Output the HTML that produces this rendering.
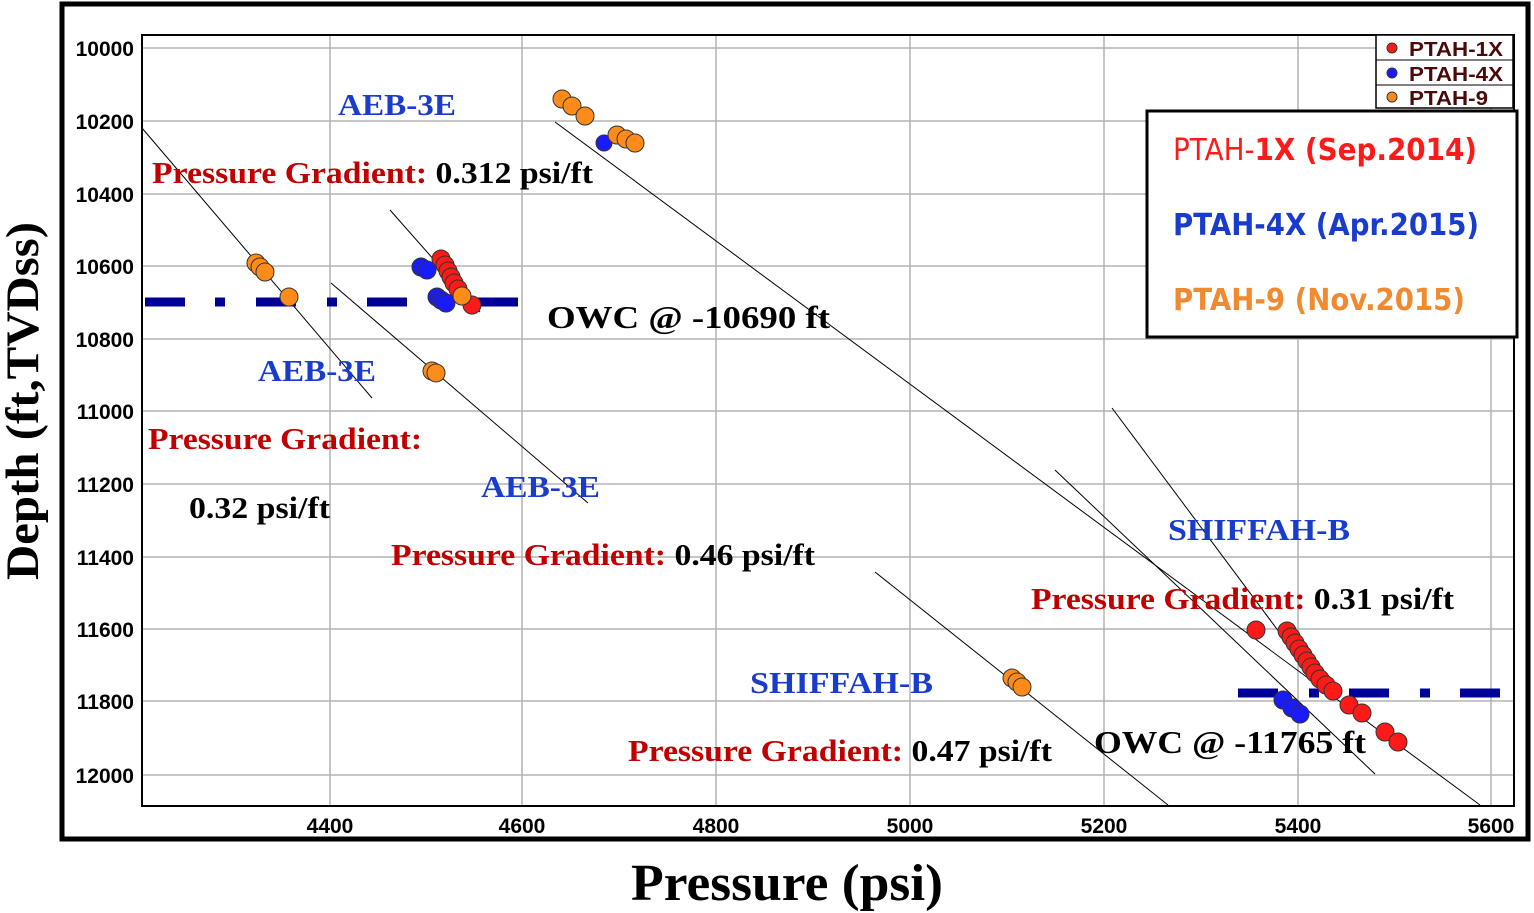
<!DOCTYPE html>
<html><head><meta charset="utf-8"><style>body{margin:0;background:#fff}svg{display:block}</style></head><body>
<svg width="1534" height="913" viewBox="0 0 1534 913" xmlns="http://www.w3.org/2000/svg">
<rect x="0" y="0" width="1534" height="913" fill="#fff"/>
<rect x="62" y="4" width="1466" height="835" fill="none" stroke="#000" stroke-width="5"/>
<g stroke="#b4b4b4" stroke-width="1.5">
<line x1="330" y1="35" x2="330" y2="806"/><line x1="522" y1="35" x2="522" y2="806"/><line x1="716" y1="35" x2="716" y2="806"/><line x1="910" y1="35" x2="910" y2="806"/><line x1="1104" y1="35" x2="1104" y2="806"/><line x1="1298" y1="35" x2="1298" y2="806"/><line x1="1491" y1="35" x2="1491" y2="806"/>
<line x1="142" y1="48" x2="1514" y2="48"/><line x1="142" y1="121" x2="1514" y2="121"/><line x1="142" y1="194" x2="1514" y2="194"/><line x1="142" y1="266" x2="1514" y2="266"/><line x1="142" y1="339" x2="1514" y2="339"/><line x1="142" y1="411" x2="1514" y2="411"/><line x1="142" y1="484" x2="1514" y2="484"/><line x1="142" y1="557" x2="1514" y2="557"/><line x1="142" y1="629" x2="1514" y2="629"/><line x1="142" y1="701" x2="1514" y2="701"/><line x1="142" y1="775" x2="1514" y2="775"/>
</g>
<rect x="142" y="35" width="1372" height="771" fill="none" stroke="#000" stroke-width="2"/>
<g font-family="Liberation Sans, sans-serif" font-weight="bold" font-size="21" fill="#000" text-anchor="end">
<text x="134" y="56">10000</text><text x="134" y="129">10200</text><text x="134" y="202">10400</text><text x="134" y="274">10600</text><text x="134" y="347">10800</text><text x="134" y="419">11000</text><text x="134" y="492">11200</text><text x="134" y="565">11400</text><text x="134" y="637">11600</text><text x="134" y="709">11800</text><text x="134" y="783">12000</text>
</g>
<g font-family="Liberation Sans, sans-serif" font-weight="bold" font-size="21" fill="#000" text-anchor="middle">
<text x="330" y="833">4400</text><text x="522" y="833">4600</text><text x="716" y="833">4800</text><text x="910" y="833">5000</text><text x="1104" y="833">5200</text><text x="1298" y="833">5400</text><text x="1491" y="833">5600</text>
</g>
<text transform="translate(38,401) rotate(-90)" font-family="Liberation Serif, serif" font-weight="bold" font-size="47" text-anchor="middle" textLength="358" lengthAdjust="spacingAndGlyphs">Depth (ft,TVDss)</text>
<text x="631" y="900" font-family="Liberation Serif, serif" font-weight="bold" font-size="52" textLength="312" lengthAdjust="spacingAndGlyphs">Pressure (psi)</text>
<g stroke="#000" stroke-width="1">
<line x1="142" y1="128" x2="372" y2="398"/>
<line x1="390" y1="210" x2="480" y2="312"/>
<line x1="331" y1="283" x2="588" y2="503"/>
<line x1="555" y1="122" x2="1480" y2="805"/>
<line x1="1112" y1="408" x2="1300" y2="660"/>
<line x1="1055" y1="470" x2="1375" y2="774"/>
<line x1="875" y1="572" x2="1168" y2="805"/>
</g>
<g stroke="#000099" stroke-width="9">
<line x1="145" y1="302" x2="185" y2="302"/><line x1="215" y1="302" x2="225" y2="302"/><line x1="256" y1="302" x2="296" y2="302"/><line x1="327" y1="302" x2="337" y2="302"/><line x1="367" y1="302" x2="407" y2="302"/><line x1="437" y1="302" x2="447" y2="302"/><line x1="478" y1="302" x2="518" y2="302"/>
<line x1="1238" y1="693" x2="1278" y2="693"/><line x1="1309" y1="693" x2="1319" y2="693"/><line x1="1349" y1="693" x2="1389" y2="693"/><line x1="1420" y1="693" x2="1430" y2="693"/><line x1="1460" y1="693" x2="1500" y2="693"/>
</g>
<g stroke="#333" stroke-width="1">
<g fill="#ff1a1a">
<circle cx="441" cy="259" r="9"/><circle cx="445" cy="265" r="9"/><circle cx="448" cy="271" r="9"/><circle cx="451" cy="277" r="9"/><circle cx="454" cy="283" r="9"/><circle cx="458" cy="289" r="9"/><circle cx="472" cy="305" r="9"/>
<circle cx="1256" cy="630" r="9"/><circle cx="1287" cy="631" r="9"/><circle cx="1291" cy="637" r="9"/><circle cx="1295" cy="643" r="9"/><circle cx="1299" cy="649" r="9"/><circle cx="1303" cy="655" r="9"/><circle cx="1307" cy="661" r="9"/><circle cx="1311" cy="667" r="9"/><circle cx="1315" cy="673" r="9"/><circle cx="1320" cy="679" r="9"/><circle cx="1326" cy="685" r="9"/><circle cx="1333" cy="691" r="9"/><circle cx="1349" cy="705" r="9"/><circle cx="1362" cy="713" r="9"/><circle cx="1385" cy="732" r="9"/><circle cx="1398" cy="742" r="9"/>
</g>
<g fill="#1a1aff">
<circle cx="421" cy="267" r="9"/><circle cx="427" cy="270" r="9"/><circle cx="437" cy="297" r="9"/><circle cx="441" cy="300" r="9"/><circle cx="446" cy="303" r="9"/><circle cx="604" cy="143" r="8"/>
<circle cx="1283" cy="700" r="9"/><circle cx="1292" cy="708" r="9"/><circle cx="1300" cy="714" r="9"/>
</g>
<g fill="#ff8c1a">
<circle cx="562" cy="99" r="9"/><circle cx="572" cy="106" r="9"/><circle cx="585" cy="116" r="9"/><circle cx="617" cy="135" r="9"/><circle cx="626" cy="139" r="9"/><circle cx="635" cy="143" r="9"/>
<circle cx="256" cy="263" r="9"/><circle cx="260" cy="267" r="9"/><circle cx="265" cy="272" r="9"/><circle cx="289" cy="297" r="9"/><circle cx="462" cy="296" r="9"/>
<circle cx="432" cy="371" r="9"/><circle cx="436" cy="373" r="9"/><circle cx="1012" cy="678" r="9"/><circle cx="1017" cy="682" r="9"/><circle cx="1022" cy="687" r="9"/>
</g>
</g>
<g font-family="Liberation Serif, serif" font-weight="bold" font-size="31" lengthAdjust="spacingAndGlyphs">
<text x="338" y="115" fill="#1a3ccc" textLength="118" lengthAdjust="spacingAndGlyphs">AEB-3E</text>
<text x="152" y="183" fill="#c00000" textLength="441" lengthAdjust="spacingAndGlyphs">Pressure Gradient: <tspan fill="#000">0.312 psi/ft</tspan></text>
<text x="547" y="328" font-size="32" fill="#000" textLength="283" lengthAdjust="spacingAndGlyphs">OWC @ -10690 ft</text>
<text x="258" y="381" fill="#1a3ccc" textLength="118" lengthAdjust="spacingAndGlyphs">AEB-3E</text>
<text x="148" y="449" fill="#c00000" textLength="274" lengthAdjust="spacingAndGlyphs">Pressure Gradient:</text>
<text x="189" y="518" fill="#000" textLength="141" lengthAdjust="spacingAndGlyphs">0.32 psi/ft</text>
<text x="481" y="497" fill="#1a3ccc" textLength="119" lengthAdjust="spacingAndGlyphs">AEB-3E</text>
<text x="391" y="565" fill="#c00000" textLength="424" lengthAdjust="spacingAndGlyphs">Pressure Gradient: <tspan fill="#000">0.46 psi/ft</tspan></text>
<text x="1168" y="540" fill="#1a3ccc" textLength="182" lengthAdjust="spacingAndGlyphs">SHIFFAH-B</text>
<text x="1031" y="609" fill="#c00000" textLength="423" lengthAdjust="spacingAndGlyphs">Pressure Gradient: <tspan fill="#000">0.31 psi/ft</tspan></text>
<text x="750" y="693" fill="#1a3ccc" textLength="183" lengthAdjust="spacingAndGlyphs">SHIFFAH-B</text>
<text x="628" y="761" fill="#c00000" textLength="424" lengthAdjust="spacingAndGlyphs">Pressure Gradient: <tspan fill="#000">0.47 psi/ft</tspan></text>
<text x="1094" y="753" font-size="32" fill="#000" textLength="272" lengthAdjust="spacingAndGlyphs">OWC @ -11765 ft</text>
</g>
<rect x="1376" y="35" width="137" height="73" fill="#fff" stroke="#000" stroke-width="1.5"/>
<line x1="1376" y1="60" x2="1513" y2="60" stroke="#000"/><line x1="1376" y1="85" x2="1513" y2="85" stroke="#000"/>
<g stroke="#333"><circle cx="1392" cy="48" r="5" fill="#ff1a1a"/><circle cx="1392" cy="73" r="5" fill="#1a1aff"/><circle cx="1392" cy="97" r="5" fill="#ff8c1a"/></g>
<g font-family="Liberation Sans, sans-serif" font-weight="bold" font-size="20" fill="#4a0a0a">
<text x="1409" y="56" textLength="94" lengthAdjust="spacingAndGlyphs">PTAH-1X</text><text x="1409" y="81" textLength="94" lengthAdjust="spacingAndGlyphs">PTAH-4X</text><text x="1409" y="105" textLength="79" lengthAdjust="spacingAndGlyphs">PTAH-9</text>
</g>
<rect x="1147" y="111" width="370" height="226" fill="#fff" stroke="#000" stroke-width="3"/>
<g font-family="DejaVu Sans, sans-serif" font-size="30">
<text x="1173" y="160" fill="#ff1a1a" textLength="304" lengthAdjust="spacingAndGlyphs">PTAH-<tspan font-weight="bold">1X (Sep.2014)</tspan></text>
<text x="1173" y="235" fill="#1a3ccc" font-weight="bold" textLength="306" lengthAdjust="spacingAndGlyphs">PTAH-4X (Apr.2015)</text>
<text x="1173" y="310" fill="#f08a30" font-weight="bold" textLength="292" lengthAdjust="spacingAndGlyphs">PTAH-9 (Nov.2015)</text>
</g>
</svg>
</body></html>
